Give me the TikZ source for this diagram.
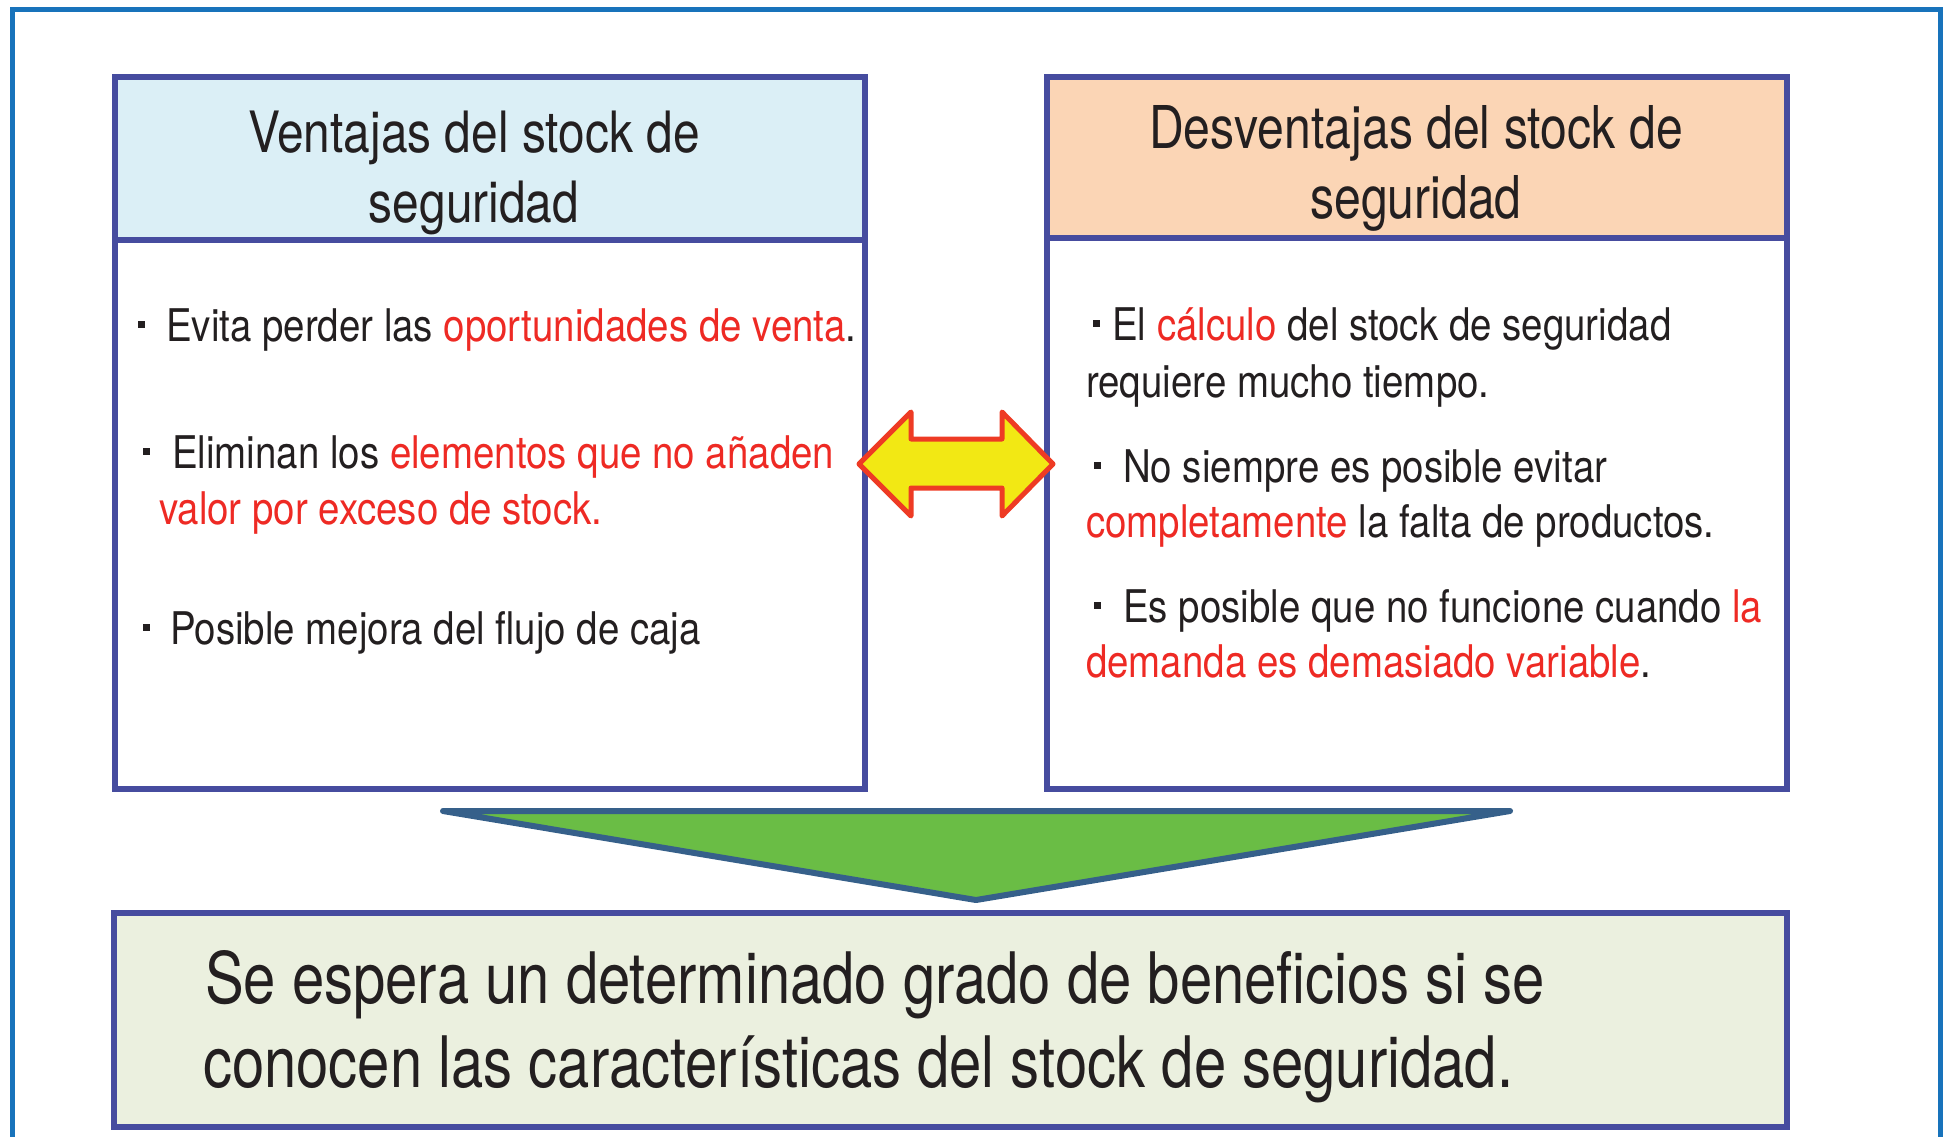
\documentclass[tikz,border=0pt]{standalone}
\usepackage{fontspec}
\setmainfont{TeX Gyre Heros}[FakeStretch=0.78]
\newfontfamily\bodyfont{TeX Gyre Heros}[FakeStretch=0.854]
\newfontfamily\lhdrfont{TeX Gyre Heros}[FakeStretch=0.84]
\newfontfamily\rhdrfont{TeX Gyre Heros}[FakeStretch=0.816]
\newfontfamily\conclfont{TeX Gyre Heros}[FakeStretch=0.817]
\definecolor{frameblue}{HTML}{1873BB}
\definecolor{boxline}{HTML}{464C9F}
\definecolor{hdrblue}{HTML}{DBEFF6}
\definecolor{hdrpeach}{HTML}{FBD5B5}
\definecolor{concl}{HTML}{EBF0DF}
\definecolor{txt}{HTML}{231F20}
\definecolor{hl}{HTML}{EE2A24}
\definecolor{arrowred}{HTML}{EE3B24}
\definecolor{arrowyellow}{HTML}{F2E814}
\definecolor{trigreen}{HTML}{6ABD45}
\definecolor{triline}{HTML}{36608A}
\newcommand\hlt[1]{\textcolor{hl}{#1}}
\newcommand\bul[1]{\raisebox{13pt}{\rule{7pt}{7pt}}\hspace{#1}}
\begin{document}
\begin{tikzpicture}[x=1pt,y=-1pt,
  boxshape/.style={draw=boxline,line width=6pt,inner sep=0pt,outer sep=0pt,anchor=north west},
  hdrtext/.style={inner sep=0pt,anchor=base,text=txt},
  bodytext/.style={inner sep=0pt,anchor=base west,text=txt,font=\bodyfont\fontsize{45}{57}\selectfont},
  concltext/.style={inner sep=0pt,anchor=base west,text=txt,font=\conclfont\fontsize{71}{84}\selectfont}]
\useasboundingbox (0,0) rectangle (1945,1137);
\clip (0,0) rectangle (1945,1137);
% outer frame
\draw[frameblue,line width=5pt] (12.5,1160) -- (12.5,10) -- (1940,10) -- (1940,1160);
% left box
\fill[hdrblue] (114.5,77) rectangle (865,240);
\node[boxshape,minimum width=750.5pt,minimum height=712pt] (lbox) at (114.5,77) {};
\draw[boxline,line width=6pt] (114.5,240) -- (865,240);
% right box
\fill[hdrpeach] (1047,77) rectangle (1787,238);
\node[boxshape,minimum width=740pt,minimum height=712pt] (rbox) at (1047,77) {};
\draw[boxline,line width=6pt] (1047,238) -- (1787,238);
% conclusion box
\node[boxshape,fill=concl,minimum width=1673pt,minimum height=214pt] (cbox) at (114,913) {};
% triangle
\draw[triline,fill=trigreen,line width=6pt,line join=round] (443,811) -- (1510,811) -- (976,900) -- cycle;
% double arrow
\draw[arrowred,fill=arrowyellow,line width=5pt,line join=round]
  (859,464) -- (911,412) -- (911,439) -- (1002,439) -- (1002,412) -- (1053,464)
  -- (1002,516) -- (1002,488) -- (911,488) -- (911,516) -- cycle;
% headers
\node[hdrtext,font=\lhdrfont\fontsize{57}{69}\selectfont] (lh1) at (474,153) {Ventajas del stock de};
\node[hdrtext,font=\lhdrfont\fontsize{57}{69}\selectfont] (lh2) at (474,222) {seguridad};
\node[hdrtext,font=\rhdrfont\fontsize{59}{70}\selectfont] (rh1) at (1416,148) {Desventajas del stock de};
\node[hdrtext,font=\rhdrfont\fontsize{59}{70}\selectfont] (rh2) at (1416,218) {seguridad};
% left body
\node[bodytext] (l1) at (138,341) {\bul{21pt}Evita perder las \hlt{oportunidades de venta}.};
\node[bodytext] (l2) at (143,468) {\bul{22pt}Eliminan los \hlt{elementos que no añaden}};
\node[bodytext] (l3) at (159,524) {\hlt{valor por exceso de stock.}};
\node[bodytext] (l4) at (143,644) {\bul{20pt}Posible mejora del flujo de caja};
% right body
\node[bodytext] (r1) at (1093,340) {\bul{12pt}El \hlt{cálculo} del stock de seguridad};
\node[bodytext] (r2) at (1086,397) {requiere mucho tiempo.};
\node[bodytext] (r3) at (1094,482) {\bul{22pt}No siempre es posible evitar};
\node[bodytext] (r4) at (1086,537) {\hlt{completamente} la falta de productos.};
\node[bodytext] (r5) at (1094,622) {\bul{22pt}Es posible que no funcione cuando \hlt{la}};
\node[bodytext] (r6) at (1086,677) {\hlt{demanda es demasiado variable}.};
% conclusion
\node[concltext] (c1) at (205,1003) {Se espera un determinado grado de beneficios si se};
\node[concltext] (c2) at (203,1087) {conocen las características del stock de seguridad.};
\end{tikzpicture}
\end{document}
